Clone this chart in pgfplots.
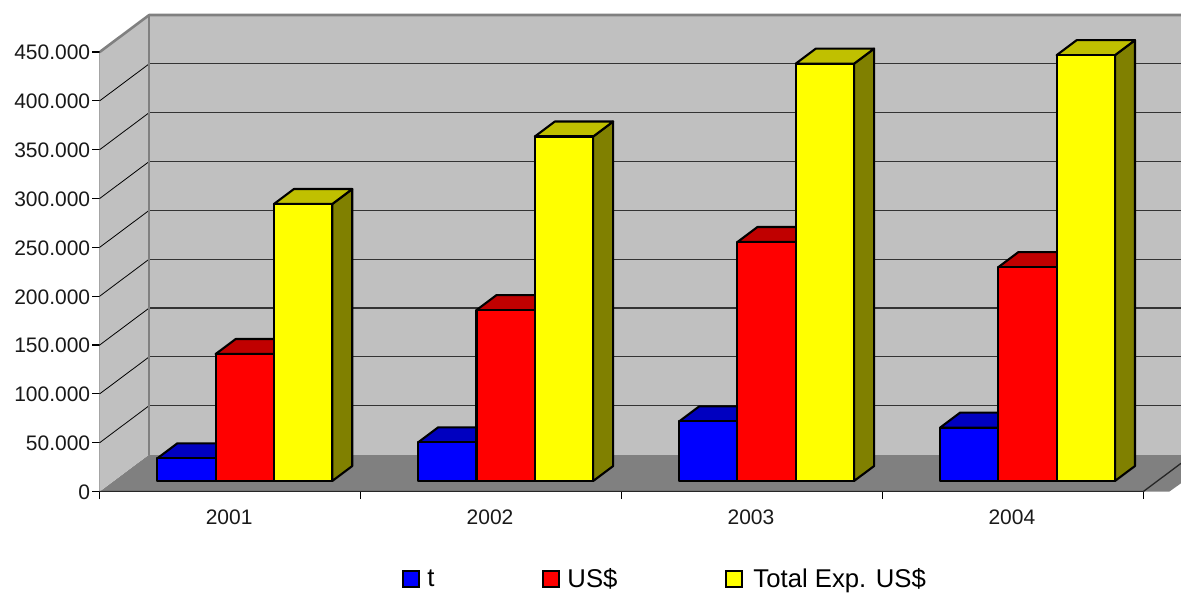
\documentclass[border=0pt]{standalone}
\usepackage{fontspec}
\setmainfont{Liberation Sans}
\usepackage{pgfplots}
\pgfplotsset{compat=1.18}

% Wall, floor and bar colours of the box chart
\definecolor{wall}{HTML}{C0C0C0}
\definecolor{floorgray}{HTML}{808080}
\definecolor{blueF}{HTML}{0000FF}\definecolor{blueT}{HTML}{0000C0}\definecolor{blueS}{HTML}{000080}
\definecolor{redF}{HTML}{FF0000}\definecolor{redT}{HTML}{C00000}\definecolor{redS}{HTML}{800000}
\definecolor{yelF}{HTML}{FFFF00}\definecolor{yelT}{HTML}{C0C000}\definecolor{yelS}{HTML}{808000}

% Depth of the box (in category units and in data units)
\def\boxdx{0.1897}
\def\boxdy{37880}
% Bars stand part-way into the box and have a depth of their own
\def\barbase{10750}
\def\bardx{0.0767}
\def\bardy{15360}
\def\barw{0.2235}
\def\barstart{0.2208}

% \boxbar{category}{slot}{value}{colour prefix}
\newcommand{\boxbar}[4]{%
  \edef\xa{\fpeval{#1+\barstart+#2*\barw}}%
  \edef\xb{\fpeval{\xa+\barw}}%
  \edef\xc{\fpeval{\xa+\bardx}}%
  \edef\xd{\fpeval{\xb+\bardx}}%
  \edef\ya{\barbase}%
  \edef\yb{\fpeval{#3+\barbase}}%
  \edef\yc{\fpeval{\yb+\bardy}}%
  \edef\yd{\fpeval{\ya+\bardy}}%
  \addplot[forget plot,barface,fill=#4S] coordinates {(\xb,\ya)(\xd,\yd)(\xd,\yc)(\xb,\yb)} --cycle;
  \addplot[forget plot,barface,fill=#4T] coordinates {(\xa,\yb)(\xc,\yc)(\xd,\yc)(\xb,\yb)} --cycle;
  \addplot[forget plot,barface,fill=#4F] coordinates {(\xa,\ya)(\xa,\yb)(\xb,\yb)(\xb,\ya)} --cycle;
}
% Grid line at one value: short stretch on the left wall, long one on the back wall
\newcommand{\wallgrid}[1]{%
  \edef\yg{\fpeval{#1+\boxdy}}%
  \addplot[forget plot,black!80,line width=1.2pt] coordinates {(\boxdx,\yg)(4.3,\yg)};
  \addplot[forget plot,black,line width=0.8pt] coordinates {(0,#1)(\boxdx,\yg)};
}

\begin{document}
\begin{tikzpicture}[x=1pt,y=1pt,barface/.style={draw=black,line width=2.1pt,line join=round}]
\useasboundingbox (0,0) rectangle (1181,592);
\begin{axis}[
  at={(99.7pt,100.5pt)},anchor=origin,
  scale only axis,width=1081.3pt,height=491.5pt,
  xmin=0,xmax=4.1445,ymin=0,ymax=503230,
  axis line style={draw=none},
  tick align=outside,tick pos=left,
  scaled y ticks=false,
  ytick={0,50000,100000,150000,200000,250000,300000,350000,400000,450000},
  yticklabels={0,50.000,100.000,150.000,200.000,250.000,300.000,350.000,400.000,450.000},
  xtick={0,1,2,3,4},
  x tick label as interval,
  xticklabels={2001,2002,2003,2004},
  tick style={black,line width=1.1pt},
  major tick length=7.5pt,
  tick label style={font=\fontsize{21}{25}\selectfont,text=black!90},
  xticklabel style={xshift=-1pt,yshift=-7.5pt},
  yticklabel style={xshift=1.5pt,yshift=-0.7pt},
  legend columns=3,
  legend style={at={(0.2800,-0.1565)},anchor=north west,draw=none,fill=none,
    font=\fontsize{25.7}{29}\selectfont,inner sep=0pt,outer sep=0pt,row sep=0pt,
    nodes={inner xsep=2pt,inner ysep=0pt}},
  legend cell align=left,
  legend image code/.code={\draw[#1,line width=2pt] (0pt,-8pt) rectangle (16pt,8pt);},
]
% Walls and floor of the box
\addplot[forget plot,fill=floorgray,draw=none] coordinates {(0,0)(\boxdx,\boxdy)(4.3,\boxdy)(4.1,0)} --cycle;
\addplot[forget plot,fill=wall,draw=none] coordinates {(0,0)(\boxdx,\boxdy)(\boxdx,487880)(0,450000)} --cycle;
\addplot[forget plot,fill=wall,draw=none] coordinates {(\boxdx,\boxdy)(\boxdx,487880)(4.3,487880)(4.3,\boxdy)} --cycle;
% Grid lines running across the left and the back wall
\wallgrid{50000}
\wallgrid{100000}
\wallgrid{150000}
\wallgrid{200000}
\wallgrid{250000}
\wallgrid{300000}
\wallgrid{350000}
\wallgrid{400000}
% Outline of the walls
\addplot[forget plot,floorgray,line width=2.6pt,line join=round] coordinates {(0,450000)(\boxdx,487880)(4.3,487880)};
\addplot[forget plot,floorgray,line width=2.6pt] coordinates {(\boxdx,\boxdy)(\boxdx,487880)};
\addplot[forget plot,black!85,line width=1.3pt] coordinates {(0,0)(0,450000)};
\edef\yedge{\fpeval{37880*0.1445/\boxdx}}
\addplot[forget plot,black!85,line width=1.3pt] coordinates {(0,0)(4,0)(4.1445,\yedge)};

% 2001
\boxbar{0}{0}{23200}{blue}
\boxbar{0}{1}{130000}{red}
\boxbar{0}{2}{283600}{yel}
% 2002
\boxbar{1}{0}{39600}{blue}
\boxbar{1}{1}{175000}{red}
\boxbar{1}{2}{352700}{yel}
% 2003
\boxbar{2}{0}{61000}{blue}
\boxbar{2}{1}{244700}{red}
\boxbar{2}{2}{427300}{yel}
% 2004
\boxbar{3}{0}{54600}{blue}
\boxbar{3}{1}{219000}{red}
\boxbar{3}{2}{436000}{yel}

\addlegendimage{fill=blueF,draw=black}
\addlegendentry{\hspace{5pt}\makebox[113pt][l]{t}}
\addlegendimage{fill=redF,draw=black}
\addlegendentry{\hspace{5pt}\makebox[156pt][l]{US\$}}
\addlegendimage{fill=yelF,draw=black}
\addlegendentry{\hspace{8pt}Total Exp. US\$}
\end{axis}
\end{tikzpicture}
\end{document}
